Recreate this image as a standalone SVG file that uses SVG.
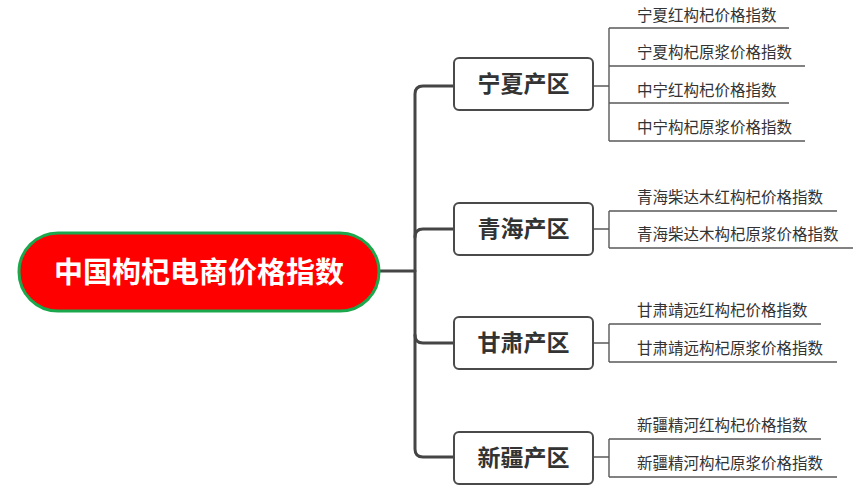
<svg xmlns="http://www.w3.org/2000/svg" width="864" height="499" viewBox="0 0 864 499">
<style>
.trunk{fill:none;stroke:#454545;stroke-width:3;stroke-linecap:round}
.leafline{fill:none;stroke:#595959;stroke-width:1.4}
.box{fill:#ffffff;stroke:#4a4a4a;stroke-width:2}
.btxt{font-family:"Noto Sans CJK SC","Noto Sans",sans-serif;font-weight:bold;font-size:23px;fill:#333333;text-anchor:middle}
.ltxt{font-family:"Noto Sans CJK SC","Noto Sans",sans-serif;font-size:15.5px;fill:#333333}
.rtxt{font-family:"Noto Sans CJK SC","Noto Sans",sans-serif;font-weight:bold;font-size:29px;fill:#ffffff;text-anchor:middle}
</style>
<rect width="864" height="499" fill="#ffffff"/>
<g id="connectors">
<path class="trunk" d="M379,271 H415"/>
<path class="trunk" d="M454,86 H423 Q415,86 415,94 V449 Q415,457 423,457 H454"/>
<path class="trunk" d="M454,229 H423 Q415,229 415,237"/>
<path class="trunk" d="M454,343 H423 Q415,343 415,335"/>
<path class="leafline" d="M593,86 H609 M609,28 V141 M609,28 H789 M609,66 H805 M609,103 H789 M609,141 H805"/>
<path class="leafline" d="M593,229 H609 M609,211 V248 M609,211 H837 M609,248 H853"/>
<path class="leafline" d="M593,343 H609 M609,324 V362 M609,324 H821 M609,362 H837"/>
<path class="leafline" d="M593,457 H609 M609,439 V477 M609,439 H821 M609,477 H837"/>
</g>
<g id="root">
<rect x="19" y="233" width="360" height="78" rx="39" ry="39" fill="#ff0000" stroke="#1ba84c" stroke-width="3"/>
<text class="rtxt" x="199" y="283">中国枸杞电商价格指数</text>
</g>
<g id="ningxia">
<rect class="box" x="454" y="58" width="139" height="52" rx="5"/>
<text class="btxt" x="523.5" y="92">宁夏产区</text>
</g>
<g id="qinghai">
<rect class="box" x="454" y="203" width="139" height="52" rx="5"/>
<text class="btxt" x="523.5" y="237">青海产区</text>
</g>
<g id="gansu">
<rect class="box" x="454" y="317" width="139" height="52" rx="5"/>
<text class="btxt" x="523.5" y="351">甘肃产区</text>
</g>
<g id="xinjiang">
<rect class="box" x="454" y="432" width="139" height="52" rx="5"/>
<text class="btxt" x="523.5" y="466">新疆产区</text>
</g>
<g id="leaves">
<text class="ltxt" x="637" y="21">宁夏红构杞价格指数</text>
<text class="ltxt" x="637" y="58">宁夏构杞原浆价格指数</text>
<text class="ltxt" x="637" y="96">中宁红构杞价格指数</text>
<text class="ltxt" x="637" y="133">中宁构杞原浆价格指数</text>
<text class="ltxt" x="637" y="203">青海柴达木红构杞价格指数</text>
<text class="ltxt" x="637" y="240">青海柴达木构杞原浆价格指数</text>
<text class="ltxt" x="637" y="316">甘肃靖远红构杞价格指数</text>
<text class="ltxt" x="637" y="354">甘肃靖远构杞原浆价格指数</text>
<text class="ltxt" x="637" y="431">新疆精河红构杞价格指数</text>
<text class="ltxt" x="637" y="469">新疆精河构杞原浆价格指数</text>
</g>
</svg>
